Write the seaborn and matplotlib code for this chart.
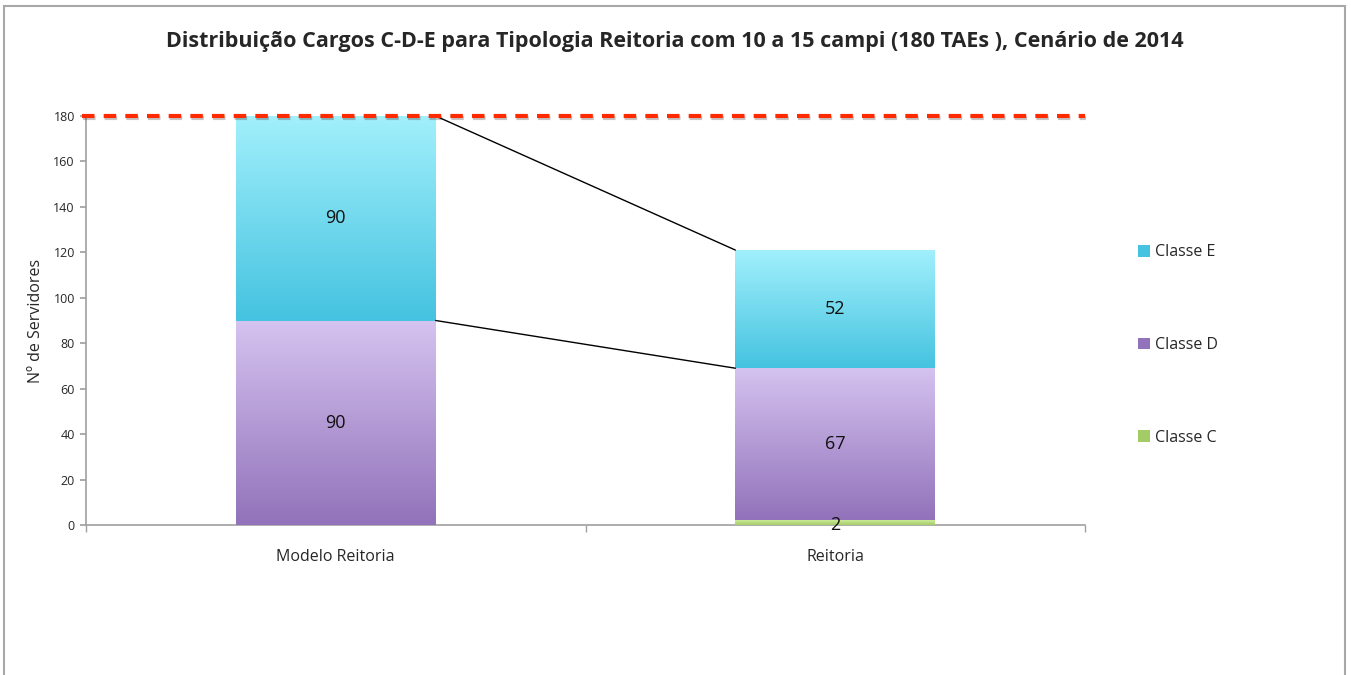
"""Stacked bar chart: distribuição de cargos C-D-E (Reitoria)."""

import matplotlib
matplotlib.use("Agg")
import matplotlib.pyplot as plt
import matplotlib.patheffects as pe
from matplotlib.colors import LinearSegmentedColormap
from matplotlib.patches import Rectangle
import numpy as np
import pandas as pd
import seaborn as sns

categories = ["Modelo Reitoria", "Reitoria"]
classe_c = [0, 2]
classe_d = [90, 67]
classe_e = [90, 52]
limite = 180

title = "Distribuição Cargos C-D-E para Tipologia Reitoria com 10 a 15 campi (180 TAEs ), Cenário de 2014"
ylabel = "Nº de Servidores"
yticks = [0, 20, 40, 60, 80, 100, 120, 140, 160, 180]

# gradient top -> bottom for each series
grads = {
    "Classe C": ("#CDEB9A", "#A3CC66"),
    "Classe D": ("#D5C3F0", "#9272BA"),
    "Classe E": ("#A2F0FC", "#45C3E0"),
}

sns.set_theme(style="white")
plt.rcParams["font.family"] = ["Open Sans", "DejaVu Sans"]

df = pd.DataFrame({"categoria": categories, "Classe C": classe_c,
                   "Classe D": classe_d, "Classe E": classe_e})
df["cd"] = df["Classe C"] + df["Classe D"]
df["cde"] = df["cd"] + df["Classe E"]

fig = plt.figure(figsize=(13.51, 6.75), dpi=100)
ax = fig.add_axes([86 / 1351, 1 - 525 / 675, 999 / 1351, 409 / 675])

layers = [("cde", "Classe E"), ("cd", "Classe D"), ("Classe C", "Classe C")]
for col, name in layers:
    sns.barplot(data=df, x="categoria", y=col, ax=ax, color=grads[name][1],
                width=0.4, errorbar=None, saturation=1, linewidth=0)

# overlay gradient fills clipped to each bar segment
bottoms = {"Classe C": [0, 0], "Classe D": classe_c, "Classe E": df["cd"].tolist()}
values = {"Classe C": classe_c, "Classe D": classe_d, "Classe E": classe_e}
grad_img = np.linspace(1, 0, 256).reshape(-1, 1)
for name in ["Classe C", "Classe D", "Classe E"]:
    cmap = LinearSegmentedColormap.from_list(name, [grads[name][1], grads[name][0]])
    for i in range(len(categories)):
        b, v = bottoms[name][i], values[name][i]
        if v <= 0:
            continue
        x0 = i - 0.2
        rect = Rectangle((x0, b), 0.4, v, transform=ax.transData, facecolor="none", edgecolor="none")
        ax.add_patch(rect)
        im = ax.imshow(grad_img, extent=(x0, x0 + 0.4, b, b + v), cmap=cmap,
                       aspect="auto", zorder=3, interpolation="bilinear")
        im.set_clip_path(rect)

# value labels
for name in ["Classe C", "Classe D", "Classe E"]:
    for i in range(len(categories)):
        v = values[name][i]
        if v <= 0:
            continue
        y = bottoms[name][i] + v / 2
        if v < 5:
            y = 0
        ax.text(i, y, f"{v}", ha="center", va="center",
                fontsize=13, color="#111111", zorder=5)

# series lines between the bars
for col in ["cd", "cde"]:
    ax.plot([0.2, 0.8], df[col].tolist(), color="black", linewidth=1, zorder=4)

# limit line
ax.axhline(limite, xmin=-0.004, xmax=1, color="#FF2A00", linewidth=3, linestyle=(0, (3, 2.2)),
           clip_on=False, zorder=6,
           path_effects=[pe.SimpleLineShadow(offset=(0.5, -1.5), alpha=0.25), pe.Normal()])

ax.set_xlim(-0.5, 1.5)
ax.set_ylim(0, 180)
ax.set_yticks(yticks)
ax.set_xlabel("")
ax.set_ylabel(ylabel, fontsize=11.5, labelpad=7)
ax.tick_params(axis="y", labelsize=9, length=4, direction="out", left=True, color="#A0A0A0", pad=4)
ax.tick_params(axis="x", labelsize=11.5, length=0, pad=17)
ax.set_xticks([-0.5, 0.5, 1.5], minor=True)
ax.tick_params(axis="x", which="minor", length=5, bottom=True, color="#A0A0A0")
for s in ["top", "right"]:
    ax.spines[s].set_visible(False)
for s in ["left", "bottom"]:
    ax.spines[s].set_color("#A0A0A0")
    ax.spines[s].set_linewidth(1.2)

# legend
handles = [Rectangle((0, 0), 1, 1, facecolor=grads[n][1], edgecolor="none")
           for n in ["Classe E", "Classe D", "Classe C"]]
leg = fig.legend(handles, ["Classe E", "Classe D", "Classe C"], loc="center left",
                 bbox_to_anchor=(1124 / 1351, 1 - 345 / 675), frameon=False, fontsize=11.5,
                 handlelength=0.75, handleheight=0.75, handletextpad=0.3, labelspacing=4.8)

fig.text(675 / 1351, 1 - 41 / 675, title, ha="center", va="center", fontsize=15.5, fontweight="bold")

# chart area border
fig.patches.append(Rectangle((4 / 1351, -0.1), 1341 / 1351, 1.1 - 6 / 675, transform=fig.transFigure,
                             fill=False, edgecolor="#A8A8A8", linewidth=1.5))

fig.savefig("out.png", dpi=100)
